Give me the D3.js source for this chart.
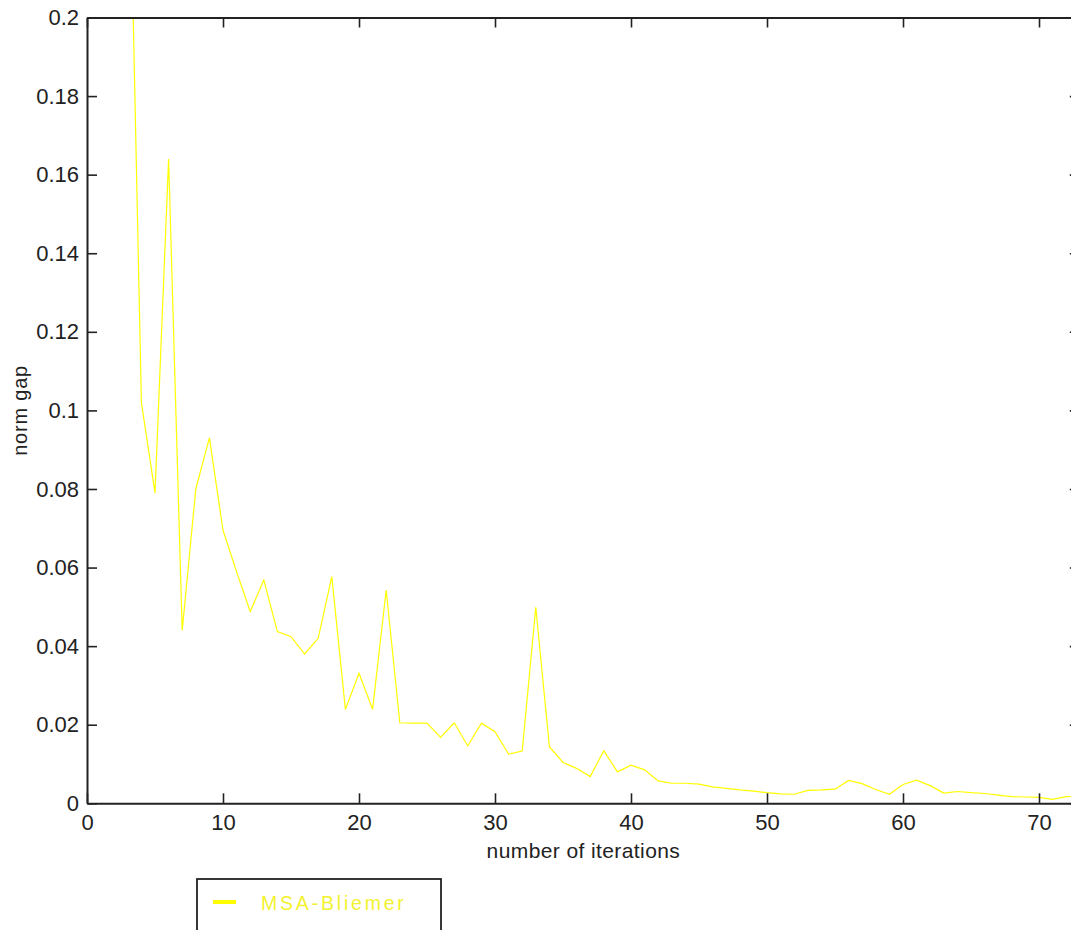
<!DOCTYPE html>
<html>
<head>
<meta charset="utf-8">
<script src="https://cdn.jsdelivr.net/npm/d3@7"></script>
<style>
  html, body { margin: 0; padding: 0; background: #fff; }
  svg { display: block; }
  text { font-family: Arial, "Liberation Sans", sans-serif; fill: #222; }
</style>
</head>
<body>
<svg id="chart" width="1071" height="930"></svg>
<script>
// ---- data ----
const iterations = [3,4,5,6,7,8,9,10,11,12,13,14,15,16,17,18,19,20,21,22,23,24,25,26,27,28,29,30,31,32,33,34,35,36,37,38,39,40,41,42,43,44,45,46,47,48,49,50,51,52,53,54,55,56,57,58,59,60,61,62,63,64,65,66,67,68,69,70,71,72,73];
const normGap = [0.265,0.102,0.079,0.164,0.044,0.080,0.093,0.0695,0.0589,0.0488,0.0568,0.0437,0.0424,0.038,0.042,0.0577,0.0239,0.0331,0.0239,0.0543,0.0205,0.0204,0.0204,0.0168,0.0205,0.0146,0.0204,0.0182,0.0125,0.0133,0.0499,0.0144,0.0104,0.0089,0.0068,0.0134,0.008,0.0097,0.0085,0.0057,0.0051,0.0051,0.0049,0.0042,0.0038,0.0034,0.0031,0.0027,0.0024,0.0023,0.0033,0.0034,0.0036,0.0058,0.0050,0.0035,0.0023,0.0048,0.0059,0.0045,0.0026,0.0030,0.0027,0.0025,0.0021,0.0017,0.0016,0.0015,0.0010,0.0017,0.0018];
const xTicks = [0,10,20,30,40,50,60,70];
const yTicks = [0,0.02,0.04,0.06,0.08,0.1,0.12,0.14,0.16,0.18,0.2];
const yTickLabels = ["0","0.02","0.04","0.06","0.08","0.1","0.12","0.14","0.16","0.18","0.2"];
const seriesName = "MSA-Bliemer";
const xLabel = "number of iterations";
const yLabel = "norm gap";

(function () {
// ---- layout ----
const mLeft = 87, mTop = 17.5, mBottom = 803.3;
const unit = 13.6;
const xMax = 73;
const mRight = mLeft + xMax * unit;

const svg = d3.select("#chart");
const x = d3.scaleLinear().domain([0, xMax]).range([mLeft, mRight]);
const y = d3.scaleLinear().domain([0, 0.2]).range([mBottom, mTop]);

svg.append("defs").append("clipPath").attr("id", "clip")
  .append("rect").attr("x", mLeft).attr("y", mTop).attr("width", mRight - mLeft).attr("height", mBottom - mTop);

// data line
const pts = iterations.map((d, i) => [d, normGap[i]]);
svg.append("path")
  .datum(pts)
  .attr("clip-path", "url(#clip)")
  .attr("fill", "none")
  .attr("stroke", "#ffff00")
  .attr("stroke-width", 1.2)
  .attr("d", d3.line().x(d => x(d[0])).y(d => y(d[1])));

// axes
const tickLen = 10;
const fmtY = d => yTickLabels[yTicks.indexOf(d)];
const gB = svg.append("g").attr("transform", `translate(0,${mBottom})`)
  .call(d3.axisBottom(x).tickValues(xTicks).tickSizeInner(-tickLen).tickSizeOuter(0).tickPadding(14));
const gT = svg.append("g").attr("transform", `translate(0,${mTop})`)
  .call(d3.axisTop(x).tickValues(xTicks).tickSizeInner(-tickLen).tickSizeOuter(0).tickFormat(""));
const gL = svg.append("g").attr("transform", `translate(${mLeft},0)`)
  .call(d3.axisLeft(y).tickValues(yTicks).tickSizeInner(-tickLen).tickSizeOuter(0).tickPadding(8).tickFormat(fmtY));
const gR = svg.append("g").attr("transform", `translate(${mRight},0)`)
  .call(d3.axisRight(y).tickValues(yTicks).tickSizeInner(-tickLen).tickSizeOuter(0).tickFormat(""));

[gB, gT, gL, gR].forEach(g => {
  g.select(".domain").attr("stroke", "#222").attr("stroke-width", 2);
  g.selectAll(".tick line").attr("stroke", "#222").attr("stroke-width", 1.6);
  g.selectAll(".tick text").attr("font-size", 22).attr("fill", "#222")
    .style("font-family", "Arial, 'Liberation Sans', sans-serif");
});
gB.selectAll(".tick text").attr("dy", "0.6em");

// axis labels
svg.append("text")
  .attr("x", (mLeft + mRight) / 2)
  .attr("y", 858)
  .attr("text-anchor", "middle")
  .attr("font-size", 21)
  .attr("letter-spacing", 0.4)
  .text(xLabel);

svg.append("text")
  .attr("transform", `translate(27,${(mTop + mBottom) / 2}) rotate(-90)`)
  .attr("text-anchor", "middle")
  .attr("font-size", 20)
  .attr("letter-spacing", 0.8)
  .text(yLabel);

// legend
const lg = svg.append("g");
lg.append("rect")
  .attr("x", 197).attr("y", 879).attr("width", 244).attr("height", 80)
  .attr("fill", "#fff").attr("stroke", "#222").attr("stroke-width", 1.8);
lg.append("line")
  .attr("x1", 213).attr("x2", 236).attr("y1", 902).attr("y2", 902)
  .attr("stroke", "#ffff00").attr("stroke-width", 4);
lg.append("text")
  .attr("x", 261).attr("y", 909.5)
  .attr("font-size", 19.5)
  .attr("letter-spacing", 2.8)
  .style("fill", "#f2f230")
  .text(seriesName);
})();
</script>
</body>
</html>
